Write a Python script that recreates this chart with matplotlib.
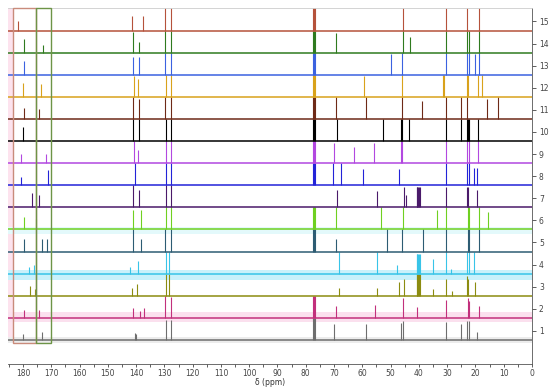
import matplotlib
matplotlib.use("Agg")
import matplotlib.pyplot as plt
from matplotlib.patches import Rectangle
from matplotlib.ticker import MultipleLocator

# peak lists per spectrum: (ppm, height in units of one trace spacing)
spec1 = [(180.0, 0.25), (173.3, 0.35), (140.4, 0.3), (139.9, 0.25), (129.5, 0.9), (127.7, 0.9),
         (77.3, 1.0), (77.0, 1.0), (76.7, 1.0), (70.0, 0.7), (58.7, 0.7), (46.3, 0.75), (45.6, 0.85),
         (30.4, 0.8), (25.1, 0.7), (23.0, 0.85), (22.3, 0.85), (19.4, 0.35)]
spec2 = [(179.6, 0.35), (174.3, 0.35), (141.1, 0.45), (138.6, 0.3), (137.1, 0.45), (129.8, 1.0),
         (127.7, 0.95), (77.3, 1.0), (77.0, 1.0), (76.7, 1.0), (69.3, 0.55), (55.5, 0.6), (45.6, 0.9),
         (40.6, 0.5), (30.4, 0.8), (22.6, 0.9), (22.3, 0.75), (18.8, 0.55)]
spec3 = [(177.5, 0.45), (175.8, 0.3), (141.5, 0.35), (139.7, 0.55), (129.5, 1.0), (128.4, 1.0),
         (68.3, 0.35), (54.8, 0.35), (47.0, 0.6), (45.3, 0.75), (40.8, 1.0), (40.5, 1.0), (40.2, 1.0),
         (39.9, 1.0), (39.6, 1.0), (35.0, 0.3), (30.4, 0.75), (28.3, 0.2), (23.0, 0.9), (22.6, 0.75),
         (20.2, 0.6)]
spec4 = [(177.8, 0.3), (176.1, 0.4), (142.2, 0.3), (139.3, 0.55), (129.5, 1.0), (128.4, 1.0),
         (68.3, 1.0), (54.8, 1.0), (47.8, 0.4), (40.8, 0.9), (40.5, 0.9), (40.2, 0.9), (39.9, 0.9),
         (39.6, 0.9), (35.0, 0.65), (30.4, 1.0), (28.7, 0.2), (23.0, 1.0), (22.4, 1.0), (20.4, 1.0)]
spec5 = [(179.6, 0.55), (173.3, 0.55), (171.5, 0.55), (141.1, 1.0), (138.3, 0.55), (129.8, 1.0),
         (127.7, 1.0), (77.3, 1.0), (77.0, 1.0), (76.7, 1.0), (69.3, 0.55), (51.3, 1.0), (46.0, 1.0),
         (38.5, 1.0), (30.4, 1.0), (22.6, 1.0), (22.3, 1.0), (18.8, 1.0)]
spec6 = [(179.6, 0.55), (175.4, 0.45), (141.1, 0.9), (138.3, 0.9), (129.5, 1.0), (127.7, 1.0),
         (77.3, 1.0), (77.0, 1.0), (76.7, 1.0), (69.3, 1.0), (53.4, 1.0), (45.6, 1.0), (33.6, 0.9),
         (30.4, 1.0), (22.6, 1.0), (22.3, 1.0), (18.8, 1.0), (15.6, 0.8)]
spec7 = [(176.8, 0.63), (174.3, 0.55), (141.1, 1.0), (138.9, 0.8), (129.5, 1.0), (127.7, 1.0),
         (69.0, 0.8), (54.8, 0.75), (45.3, 0.9), (44.6, 0.55), (40.8, 0.9), (40.5, 0.9), (40.2, 0.9),
         (39.9, 0.9), (39.6, 0.9), (30.4, 0.9), (23.0, 0.9), (22.6, 0.9), (19.4, 0.8)]
spec8 = [(180.7, 0.36), (171.2, 0.68), (140.4, 1.0), (129.5, 1.0), (127.7, 1.0), (77.3, 1.0),
         (77.0, 1.0), (76.7, 1.0), (70.3, 1.0), (67.5, 1.0), (59.8, 0.75), (47.0, 0.75), (30.4, 1.0),
         (23.0, 1.0), (22.3, 1.0), (20.4, 0.8), (19.4, 0.8)]
spec9 = [(180.7, 0.4), (171.9, 0.4), (140.7, 1.0), (139.3, 0.6), (129.5, 1.0), (127.7, 1.0),
         (77.3, 1.0), (77.0, 1.0), (76.7, 1.0), (70.0, 0.9), (62.9, 0.75), (55.9, 0.9), (46.3, 1.0),
         (45.9, 1.0), (30.4, 1.0), (23.0, 1.0), (22.4, 1.0), (19.1, 1.0)]
spec10 = [(180.0, 0.63), (141.1, 1.0), (139.0, 1.0), (129.5, 1.0), (127.7, 1.0), (77.3, 1.0),
          (77.0, 1.0), (76.7, 1.0), (69.0, 1.0), (52.7, 1.0), (46.2, 1.0), (45.8, 1.0), (43.5, 1.0),
          (30.4, 1.0), (25.1, 1.0), (23.1, 1.0), (22.7, 1.0), (22.3, 1.0), (19.1, 1.0)]
spec11 = [(179.6, 0.5), (174.3, 0.45), (141.1, 1.0), (139.0, 0.9), (129.8, 1.0), (127.7, 1.0),
          (77.3, 1.0), (77.0, 1.0), (76.7, 1.0), (69.3, 1.0), (58.7, 1.0), (45.9, 1.0), (38.9, 0.8),
          (30.4, 1.0), (25.1, 1.0), (23.0, 1.0), (15.9, 0.9), (12.0, 1.0)]
spec12 = [(180.0, 0.63), (173.6, 0.6), (140.7, 0.95), (139.3, 0.8), (129.5, 1.0), (127.7, 1.0),
          (77.3, 1.0), (77.0, 1.0), (76.7, 1.0), (59.4, 0.95), (46.0, 1.0), (31.5, 1.0), (31.1, 1.0),
          (23.0, 1.0), (22.6, 1.0), (19.1, 1.0), (17.7, 1.0)]
spec13 = [(179.6, 0.6), (141.1, 0.8), (139.0, 0.8), (129.8, 1.0), (127.7, 1.0), (77.3, 1.0),
          (77.0, 1.0), (76.7, 1.0), (49.9, 0.95), (45.9, 1.0), (30.4, 1.0), (23.0, 1.0), (22.3, 1.0),
          (20.2, 0.95), (18.8, 1.0)]
spec14 = [(179.6, 0.6), (172.9, 0.36), (141.1, 0.95), (139.0, 0.5), (129.8, 1.0), (127.7, 1.0),
          (77.3, 1.0), (77.0, 1.0), (76.7, 1.0), (69.3, 0.9), (45.6, 1.0), (43.2, 0.72), (30.4, 1.0),
          (23.0, 1.0), (22.3, 1.0), (18.8, 1.0)]
spec15 = [(181.8, 0.45), (141.5, 0.68), (137.6, 0.68), (129.8, 1.0), (127.7, 1.0), (77.3, 1.0),
          (77.0, 1.0), (76.7, 1.0), (45.6, 1.0), (30.4, 1.0), (23.0, 1.0), (18.8, 1.0)]

labels = [str(i) for i in range(1, 16)]
colors = ["#6e6e6e", "#c2307c", "#8c8c10", "#38c4e8", "#2d5c73", "#6fd021", "#4a1a6a",
          "#2323d8", "#b248e0", "#000000", "#6e2a17", "#d9a21b", "#3b62e0", "#2f7a1f", "#b5523b"]

spectra = [spec1, spec2, spec3, spec4, spec5, spec6, spec7, spec8, spec9, spec10,
           spec11, spec12, spec13, spec14, spec15]

X_LEFT, X_RIGHT = 185.3, 0.0
Y_LOW, Y_HIGH = -1.09, 15.02

fig = plt.figure(figsize=(5.5, 3.87), dpi=100)
ax = fig.add_axes([8 / 550, 1 - 364 / 387, 524 / 550, 356 / 387])
ax.set_xlim(X_LEFT, X_RIGHT)
ax.set_ylim(Y_LOW, Y_HIGH)

# faint highlight bands
ax.axvspan(185.3, 183.5, ymin=(-0.14 - Y_LOW) / (Y_HIGH - Y_LOW), color="#fde3ee", lw=0, zorder=0)
ax.axhspan(3 - 0.27, 3 + 0.18, color="#c9f1fb", lw=0, zorder=0)
ax.axhspan(5 - 0.22, 5 + 0.1, color="#e3f9fb", lw=0, zorder=0)
ax.axhspan(1 - 0.2, 1 + 0.25, color="#fbe0ee", lw=0, zorder=0)
ax.axhspan(0 - 0.15, 0 + 0.12, color="#ececec", lw=0, zorder=0)

for i, (peaks, c) in enumerate(zip(spectra, colors)):
    base = i
    ax.hlines(base, X_LEFT, X_RIGHT, color=c, lw=1.1, zorder=2)
    ppm = [p[0] for p in peaks]
    top = [base + p[1] for p in peaks]
    ax.vlines(ppm, base, top, colors=c, lw=0.8, zorder=2)

# region boxes
ax.add_patch(Rectangle((175.4, -0.14), 183.5 - 175.4, Y_HIGH + 0.14, fill=False,
                       ec="#c98b7b", lw=1.0, zorder=3, clip_on=False))
ax.add_patch(Rectangle((170.1, -0.14), 175.4 - 170.1, Y_HIGH + 0.14, fill=False,
                       ec="#6d9447", lw=1.0, zorder=3, clip_on=False))

ax.xaxis.set_major_locator(MultipleLocator(10))
ax.xaxis.set_minor_locator(MultipleLocator(5))
ax.tick_params(axis="x", which="both", direction="out", length=2.5, width=0.6,
               colors="#444444", labelsize=5.5, pad=1)
ax.set_xlabel("δ (ppm)", fontsize=5.5, color="#333333", labelpad=0)

ax.yaxis.tick_right()
ax.set_yticks([i + 0.41 for i in range(15)])
ax.set_yticklabels(labels)
ax.tick_params(axis="y", direction="out", length=3, width=0.6, colors="#444444",
               labelsize=5.5, pad=2)

ax.spines["left"].set_visible(False)
ax.spines["top"].set_color("#cccccc")
ax.spines["top"].set_linewidth(0.6)
for s in ("right", "bottom"):
    ax.spines[s].set_color("#555555")
    ax.spines[s].set_linewidth(0.6)

fig.savefig("out.png", dpi=100)
